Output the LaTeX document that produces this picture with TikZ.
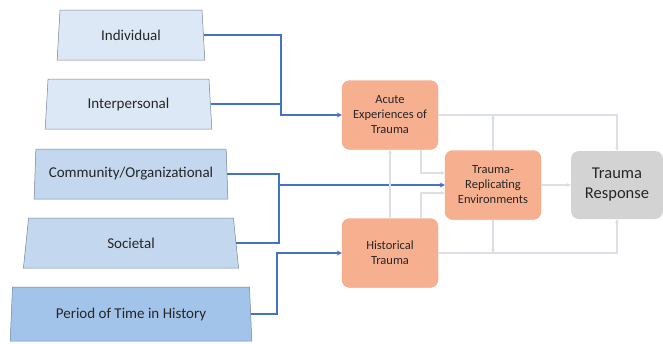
\documentclass[tikz,border=0pt]{standalone}
\usepackage{fontspec}
\setmainfont{Carlito}
\usetikzlibrary{arrows.meta, shapes.geometric}

\definecolor{lvlA}{HTML}{DCE8F6}
\definecolor{lvlB}{HTML}{C3D8EF}
\definecolor{lvlC}{HTML}{A3C4EA}
\definecolor{lvlLine}{HTML}{6F84A0}
\definecolor{traumaFill}{HTML}{F6B090}
\definecolor{traumaLine}{HTML}{F2A27C}
\definecolor{respFill}{HTML}{D4D3D3}
\definecolor{linkBlue}{HTML}{4472C4}
\definecolor{feedGray}{HTML}{DCE0E6}
\definecolor{txt}{HTML}{262626}

\begin{document}
\begin{tikzpicture}[x=1pt, y=-1pt,
    level/.style={trapezium, trapezium angle=83.5, trapezium stretches=true,
        draw=lvlLine, line width=0.5pt, minimum height=50pt, inner sep=0pt,
        text=txt, font=\fontsize{15}{18}\selectfont},
    trauma/.style={rectangle, rounded corners=8pt, fill=traumaFill, draw=traumaLine,
        line width=0.4pt, minimum width=96pt, minimum height=69pt, align=center,
        text=txt, font=\fontsize{12.5}{15}\selectfont},
    response/.style={rectangle, rounded corners=8pt, fill=respFill,
        minimum width=92pt, minimum height=68pt, align=center,
        text=txt, font=\fontsize{16.5}{20}\selectfont},
    link/.style={draw=linkBlue, line width=1.6pt, -{Stealth[length=5pt,width=5pt]}},
    feed/.style={draw=feedGray, line width=1.4pt, -{Stealth[length=4pt,width=4pt]}}]

    \useasboundingbox (0,0) rectangle (663,343);

    % levels
    \node[level, fill=lvlA, minimum width=148pt] (indiv) at (131,35) {Individual};
    \node[level, fill=lvlA, minimum width=167pt] (inter) at (128.5,104) {Interpersonal};
    \node[level, fill=lvlB, minimum width=194pt] (comm) at (131,174) {Community/Organizational};
    \node[level, fill=lvlB, minimum width=216pt] (soc) at (131,243) {Societal};
    \node[level, fill=lvlC, minimum width=242pt, minimum height=54pt] (period) at (131,314) {Period of Time in History};

    % trauma boxes
    \node[trauma] (acute) at (390,115) {Acute\\Experiences of\\Trauma};
    \node[trauma] (tre) at (493,185) {Trauma-\\Replicating\\Environments};
    \node[trauma] (hist) at (390,253) {Historical\\Trauma};
    \node[response] (resp) at (617,185) {Trauma\\Response};

    % junctions
    \coordinate (ja) at (281,0);
    \coordinate (jb) at (279,0);
    \coordinate (jc) at (277,0);

    % blue links
    \draw[link] (indiv.east) -| (ja |- acute.west) -- (acute.west);
    \draw[link, -] (inter.east) -- (inter.east -| ja);
    \draw[link, -] (comm.east) -| (jb |- soc.east) -- (soc.east);
    \draw[link] (jb |- tre.west) -- (tre.west);
    \draw[link] (period.east) -| (jc |- hist.west) -- (hist.west);

    % gray feedback
    \draw[feed] (acute.east) -| (resp.north);
    \draw[feed] (tre.north) -- (tre.north |- acute.east);
    \draw[feed] (tre.east) -- (resp.west);
    \draw[feed] (hist.east) -| (resp.south);
    \draw[feed] (tre.south) -- (tre.south |- hist.east);
    \draw[feed] (hist.north) -- (acute.south);
    \draw[feed] ([xshift=31pt]acute.south) |- ([yshift=12pt]tre.west);
    \draw[feed] ([xshift=31pt]hist.north) |- ([yshift=-8pt]tre.west);
\end{tikzpicture}
\end{document}
